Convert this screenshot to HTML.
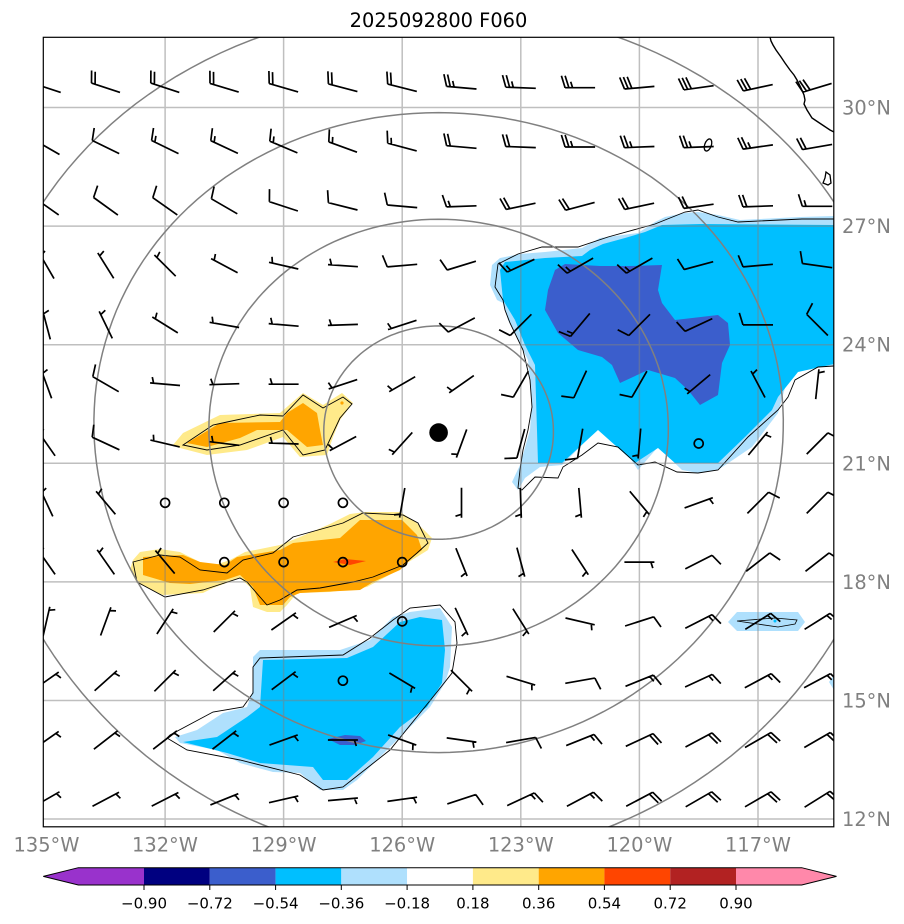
<!DOCTYPE html>
<html><head><meta charset="utf-8"><style>
html,body{margin:0;padding:0;background:#fff;}
svg{display:block;}
text{font-family:"DejaVu Sans","Liberation Sans",sans-serif;}
</style></head><body>
<svg id="s" xmlns="http://www.w3.org/2000/svg" width="904" height="924" viewBox="0 0 904 924">
<defs><clipPath id="c"><rect x="43.3" y="37.3" width="790.5" height="789.5"/></clipPath></defs>
<rect width="904" height="924" fill="#fff"/>
<text x="438.5" y="27" font-size="19.4" text-anchor="middle" fill="#000">2025092800 F060</text>
<g clip-path="url(#c)">
<!-- big blue region -->
<polygon fill="#afe0fd" points="834,216 800,217 740,220 718,215 698,212 684,213 665,217 655,222 638,233 600,238 582,248 545,252 520,254 500,258 492,265 490,285 497,300 503,303 508,320 518,340 528,360 532,400 530,430 520,465 512,482 518,490 525,478 540,467 562,465 580,447 598,427 618,440 638,470 658,447 682,470 698,473 718,470 752,447 778,413 788,377 800,370 818,367 834,366"/>
<polygon fill="#00bfff" points="834,225 700,224 662,225 645,232 625,238 603,244 590,250 582,256 545,258 505,262 500,270 503,300 515,320 525,345 535,365 538,463 562,463 598,430 635,463 658,448 675,463 718,463 745,437 772,410 778,397 798,372 834,364"/>
<polygon fill="#3b5ecc" points="555,270 565,264 600,266 630,266 662,265 658,290 662,303 675,320 718,315 728,323 730,345 722,363 718,395 700,405 688,390 675,378 648,370 620,383 612,365 602,357 578,350 558,333 545,310 548,290"/>
<polyline fill="none" stroke="#000" stroke-width="0.9" points="834,219 802,219 738,222 718,217 698,210 685,212 655,224 608,237 578,247 542,247 518,254 498,264 495,287 503,300 505,310 510,323 523,350 530,380 532,407 528,430 523,450 520,470 518,488 522,490 535,477 558,478 563,467 582,455 598,443 618,447 638,465 655,462 677,472 698,473 718,470 748,437 778,410 788,397 795,380 818,367 834,366"/>
<!-- upper orange blob -->
<polygon fill="#ffea8a" points="173,445 183,433 220,415 280,413 303,393 323,405 342,393 353,403 340,420 333,437 327,455 300,457 283,437 247,450 207,455 180,448"/>
<polygon fill="#ffa500" points="187,443 220,423 280,422 287,413 303,403 317,413 320,430 323,445 307,447 287,430 257,430 240,438 207,447"/>
<circle cx="342" cy="403" r="1.6" fill="#ffa500"/>
<polygon fill="none" stroke="#000" stroke-width="0.9" points="183,445 213,425 227,422 260,415 283,416 303,395 323,408 343,397 352,404 340,418 325,450 303,455 283,430 240,445 207,450"/>
<!-- lower orange band -->
<polygon fill="#ffea8a" points="130,570 133,560 140,552 160,549 180,552 200,562 215,565 230,560 245,552 280,545 300,537 330,524 350,514 365,512 400,512 417,523 432,538 428,550 420,555 407,563 393,573 367,587 330,592 297,593 287,605 280,612 267,612 253,607 250,587 240,578 213,588 203,593 163,595 137,583"/>
<polygon fill="#ffa500" points="143,557 183,555 200,562 225,565 237,557 280,550 293,543 340,538 360,520 402,520 417,535 422,550 413,557 400,570 373,582 360,590 300,593 290,597 283,605 260,605 253,587 240,575 225,580 190,584 170,583 143,575"/>
<polygon fill="#ff4500" points="333,562 345,559 366,561 350,565"/>
<polygon fill="none" stroke="#000" stroke-width="0.9" points="133,562 160,555 180,557 200,570 227,573 243,560 273,553 293,537 343,523 363,513 403,515 418,523 428,543 417,553 403,565 373,577 353,582 320,588 297,590 280,600 267,605 260,597 247,582 240,578 203,590 165,597 137,582"/>
<!-- lower blue region -->
<polygon fill="#afe0fd" points="393,617 410,612 440,608 452,627 450,667 445,683 430,707 417,720 387,750 357,780 343,790 320,790 300,773 273,772 240,763 217,750 180,743 175,737 197,730 223,713 247,707 253,690 253,657 260,650 340,650 370,640"/>
<polygon fill="#00bfff" points="263,660 347,658 373,647 400,622 420,617 442,620 445,650 442,683 427,707 400,727 373,757 347,780 323,780 313,767 260,763 227,753 183,742 217,737 247,717 260,707"/>
<polygon fill="#3b5ecc" points="328,739 345,735 360,736 366,741 355,745 340,745"/>
<polygon fill="none" stroke="#000" stroke-width="0.9" points="167,738 187,750 240,760 300,775 323,790 343,787 390,750 437,692 452,673 457,643 455,622 440,605 410,608 393,620 370,638 343,655 260,658 253,667 253,693 243,707 213,712 170,735"/>
<!-- small island region -->
<polygon fill="#afe0fd" points="728,622 737,612 798,612 805,622 798,631 737,631"/>
<polygon fill="none" stroke="#000" stroke-width="0.8" points="737,621 775,618 797,620 795,624 778,627"/>
<circle cx="775" cy="621" r="1.5" fill="#00bfff"/>
<polygon fill="#afe0fd" points="829,682 834,675 834,690"/>
<g id="grid" stroke="#808080" stroke-opacity="0.5" stroke-width="1.5" fill="none"></g>
<g id="rings" stroke="#808080" stroke-width="1.5" fill="none"></g>
<polyline fill="none" stroke="#000" stroke-width="1.4" points="770,37 771,41 773,45 776,50 781,57 785,63 790,70 794,75 797,80 801,88 804,95 805,100 804,104 807,110 812,118 818,122 824,126 830,130 834,132"/>
<path d="M826,172 L830,175 L831,183 L828,185 L823,183 L825,178 Z" fill="none" stroke="#000" stroke-width="1.3"/>
<ellipse cx="708" cy="145" rx="3.3" ry="6.3" transform="rotate(20 708 145)" fill="none" stroke="#000" stroke-width="1.3"/>
<g id="barbs" stroke="#000" stroke-width="1.7" fill="none"></g>
<circle cx="438.6" cy="432.6" r="9.3" fill="#000"/>
</g>
<rect x="43.3" y="37.3" width="790.5" height="789.5" fill="none" stroke="#000" stroke-width="1.2"/>
<g font-size="19.4" fill="#808080" text-anchor="middle">
<text x="46.5" y="851.7">135°W</text>
<text x="165" y="851.7">132°W</text>
<text x="283.6" y="851.7">129°W</text>
<text x="402.2" y="851.7">126°W</text>
<text x="520.8" y="851.7">123°W</text>
<text x="639.4" y="851.7">120°W</text>
<text x="758" y="851.7">117°W</text>
</g>
<g font-size="19.4" fill="#808080">
<text x="842" y="114.5">30°N</text>
<text x="842" y="233.1">27°N</text>
<text x="842" y="351.7">24°N</text>
<text x="842" y="470.3">21°N</text>
<text x="842" y="588.9">18°N</text>
<text x="842" y="707.4">15°N</text>
<text x="842" y="826">12°N</text>
</g>
<!-- colorbar -->
<polygon fill="#9932cc" points="43.3,876.4 78.3,867.7 144,867.7 144,885 78.3,885"/>
<rect x="144" y="867.7" width="65.8" height="17.3" fill="#000080"/>
<rect x="209.8" y="867.7" width="65.8" height="17.3" fill="#3b5ecc"/>
<rect x="275.6" y="867.7" width="65.7" height="17.3" fill="#00bfff"/>
<rect x="341.3" y="867.7" width="65.8" height="17.3" fill="#afe0fd"/>
<rect x="407.1" y="867.7" width="65.8" height="17.3" fill="#ffffff"/>
<rect x="472.9" y="867.7" width="65.8" height="17.3" fill="#ffea8a"/>
<rect x="538.7" y="867.7" width="65.7" height="17.3" fill="#ffa500"/>
<rect x="604.4" y="867.7" width="65.8" height="17.3" fill="#ff4500"/>
<rect x="670.2" y="867.7" width="65.8" height="17.3" fill="#b22222"/>
<polygon fill="#ff88aa" points="736,867.7 801.7,867.7 836.5,876.4 801.7,885 736,885"/>
<polygon fill="none" stroke="#000" stroke-width="1" points="43.3,876.4 78.3,867.7 801.7,867.7 836.5,876.4 801.7,885 78.3,885"/>
<g stroke="#000" stroke-width="1">
<path d="M144,885V890M209.8,885V890M275.6,885V890M341.3,885V890M407.1,885V890M472.9,885V890M538.7,885V890M604.4,885V890M670.2,885V890M736,885V890"/>
</g>
<g font-size="15" fill="#000" text-anchor="middle">
<text x="144" y="908.3">−0.90</text>
<text x="209.8" y="908.3">−0.72</text>
<text x="275.6" y="908.3">−0.54</text>
<text x="341.3" y="908.3">−0.36</text>
<text x="407.1" y="908.3">−0.18</text>
<text x="472.9" y="908.3">0.18</text>
<text x="538.7" y="908.3">0.36</text>
<text x="604.4" y="908.3">0.54</text>
<text x="670.2" y="908.3">0.72</text>
<text x="736" y="908.3">0.90</text>
</g>
</svg>
<script>
(function(){
const NS="http://www.w3.org/2000/svg";
const X0=43.3,Y0=37.3,S=39.53,LON0=-135.08,LAT0=31.776;
const px=l=>X0+(l-LON0)*S, py=l=>Y0+(LAT0-l)*S;
function el(tag,attrs,parent){const e=document.createElementNS(NS,tag);for(const k in attrs)e.setAttribute(k,attrs[k]);parent.appendChild(e);return e;}
const g=document.getElementById('grid');
let d='';
[-132,-129,-126,-123,-120,-117].forEach(lo=>{d+='M'+px(lo).toFixed(1)+',30V840';});
[30,27,24,21,18,15,12].forEach(la=>{d+='M30,'+py(la).toFixed(1)+'H850';});
el('path',{d:d},g);
const R=document.getElementById('rings');
const cl=21.776*Math.PI/180, clo=-125.08;
[300,600,900,1200].forEach(km=>{
  const dd=km/6371; let p='';
  for(let i=0;i<=360;i+=2){
    const th=i*Math.PI/180;
    const la2=Math.asin(Math.sin(cl)*Math.cos(dd)+Math.cos(cl)*Math.sin(dd)*Math.cos(th));
    const dl=Math.atan2(Math.sin(th)*Math.sin(dd)*Math.cos(cl),Math.cos(dd)-Math.sin(cl)*Math.sin(la2));
    const x=px(clo+dl*180/Math.PI), y=py(la2*180/Math.PI);
    p+=(i?'L':'M')+x.toFixed(1)+','+y.toFixed(1);
  }
  el('path',{d:p+'Z'},R);
});
const W=[
[[288,20],[288,20],[288,20],[287,20],[286,20],[285,20],[284,20],[275,25],[272,25],[270,25],[265,30],[262,30],[258,30],[253,30]],
[[300,10],[296,10],[296,15],[295,15],[293,15],[290,15],[285,15],[275,20],[272,20],[270,25],[268,25],[268,25],[262,25],[260,20]],
[[305,10],[306,10],[305,10],[300,10],[288,10],[284,10],[275,10],[268,15],[258,20],[255,20],[258,20],[262,20],[268,20],[270,15]],
[[330,5],[328,5],[315,5],[298,5],[283,5],[274,5],[265,10],[253,10],[245,15],[240,15],[240,15],[255,10],[265,10],[278,10]],
[[345,5],[334,5],[302,5],[280,5],[275,5],[268,5],[252,5],[242,10],[225,10],[220,15],[225,10],[245,10],[270,10],[315,10]],
[[340,5],[300,10],[275,5],[268,5],[270,5],[252,5],[240,5],[235,5],[210,10],[205,10],[210,10],[230,5],[332,5],[6,5]],
[[325,5],[295,10],[283,5],[277,5],[272,5],[242,5],[222,5],[200,5],[195,10],[190,10],[185,5],[0,0],[40,5],[45,10]],
[[335,5],[320,5],[0,0],[0,0],[0,0],[0,0],[190,5],[180,5],[178,5],[175,5],[140,5],[70,5],[45,10],[45,10]],
[[325,5],[325,5],[320,5],[0,0],[0,0],[0,0],[0,0],[158,5],[165,5],[147,5],[90,5],[63,10],[52,10],[52,10]],
[[13,5],[20,5],[33,5],[45,5],[55,5],[67,5],[0,0],[155,5],[148,5],[103,5],[72,10],[63,15],[58,15],[58,15]],
[[55,5],[48,5],[45,5],[48,5],[53,5],[0,0],[121,5],[135,5],[107,5],[80,10],[68,15],[65,15],[62,15],[62,15]],
[[55,5],[52,5],[52,5],[52,5],[70,5],[90,5],[110,5],[98,5],[80,10],[68,15],[65,20],[62,20],[60,20],[60,20]],
[[60,5],[62,5],[63,5],[68,5],[77,5],[85,5],[82,5],[72,10],[65,15],[62,15],[62,20],[60,20],[60,20],[58,20]]
];
const B=document.getElementById('barbs');
const L=30, sp=0.125*L, fh=0.4*L, fw=0.25*L;
let bd='';
const f=v=>v.toFixed(1);
W.forEach((row,ri)=>{
  const cy=py(30.5-1.5*ri);
  row.forEach((w,ci)=>{
    const cx=px(-135+1.5*ci);
    const dir=w[0], spd=w[1];
    if(spd<5){el('circle',{cx:f(cx),cy:f(cy),r:4.5},B);return;}
    const a=dir*Math.PI/180, sx=Math.sin(a), sy=-Math.cos(a);
    const ex=cx+sx*L/2, ey=cy+sy*L/2, tx=cx-sx*L/2, ty=cy-sy*L/2;
    const qx=-sy, qy=sx;
    bd+='M'+f(tx)+','+f(ty)+'L'+f(ex)+','+f(ey);
    const n=Math.round(spd/5), nf=Math.floor(n/2), h=n%2;
    let off=0;
    for(let i=0;i<nf;i++){
      const bx=ex-sx*off, by=ey-sy*off;
      bd+='M'+f(bx)+','+f(by)+'L'+f(bx+qx*fh+sx*fw/2)+','+f(by+qy*fh+sy*fw/2);
      off+=sp;
    }
    if(h){
      if(off===0) off=3.5;
      const bx=ex-sx*off, by=ey-sy*off;
      bd+='M'+f(bx)+','+f(by)+'L'+f(bx+qx*fh/2+sx*fw/4)+','+f(by+qy*fh/2+sy*fw/4);
    }
  });
});
el('path',{d:bd},B);
})();
</script>
</body></html>
